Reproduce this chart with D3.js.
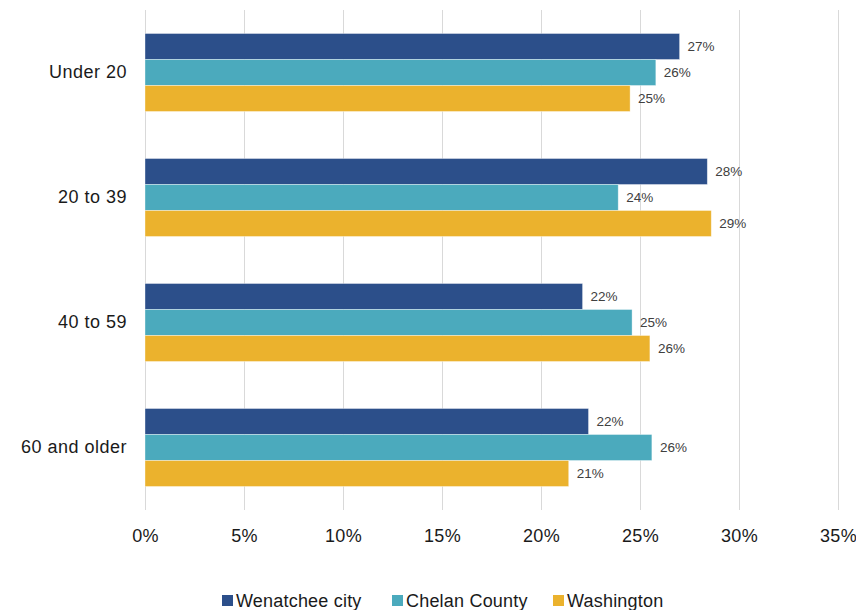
<!DOCTYPE html>
<html>
<head>
<meta charset="utf-8">
<script src="https://cdn.jsdelivr.net/npm/d3@7"></script>
<style>
  html, body { margin: 0; padding: 0; background: #fff; }
  svg { display: block; font-family: "Liberation Sans", Arial, sans-serif; }
</style>
</head>
<body>
<svg id="chart" width="856" height="610"></svg>
<script>
// Age groups, top to bottom
const categories = ["Under 20", "20 to 39", "40 to 59", "60 and older"];
const seriesNames = ["Wenatchee city", "Chelan County", "Washington"];
const seriesColors = ["#2C4F8A", "#4BAABD", "#EBB22D"];

// Share of population in each age group (%)
const wenatcheeCity = [27.0, 28.4, 22.1, 22.4];
const chelanCounty  = [25.8, 23.9, 24.6, 25.6];
const washington    = [24.5, 28.6, 25.5, 21.4];

const xTicks = [0, 5, 10, 15, 20, 25, 30, 35];

const seriesValues = [wenatcheeCity, chelanCounty, washington];

const svg = d3.select("#chart");
const plotLeft = 145, plotRight = 838, plotTop = 10, plotBottom = 510;
const labelFont = "'Liberation Sans', Arial, sans-serif";

const x = d3.scaleLinear().domain([0, 35]).range([plotLeft, plotRight]);
const y0 = d3.scaleBand().domain(categories).range([plotTop, plotBottom])
  .paddingInner(0.376).paddingOuter(0.188);
const y1 = d3.scaleBand().domain(seriesNames).range([0, y0.bandwidth()]);

// Vertical gridlines
svg.append("g").selectAll("line").data(xTicks).join("line")
  .attr("x1", d => x(d) + 0.5).attr("x2", d => x(d) + 0.5)
  .attr("y1", plotTop).attr("y2", plotBottom)
  .attr("stroke", "#d9d9d9").attr("stroke-width", 1);

// X axis tick labels
const xAxis = d3.axisBottom(x).tickValues(xTicks).tickFormat(d => d + "%").tickSize(0).tickPadding(0);
const gx = svg.append("g").attr("transform", `translate(0,${plotBottom})`).call(xAxis);
gx.select(".domain").remove();
gx.selectAll("text").attr("y", 32).attr("dy", 0)
  .attr("font-size", 18).attr("letter-spacing", 0.3).attr("fill", "#1a1a1a")
  .attr("font-family", labelFont);

// Category labels
const yAxis = d3.axisLeft(y0).tickSize(0).tickPadding(18);
const gy = svg.append("g").attr("transform", `translate(${plotLeft},0)`).call(yAxis);
gy.select(".domain").remove();
gy.selectAll("text").attr("font-size", 18).attr("letter-spacing", 0.5).attr("fill", "#1a1a1a")
  .attr("font-family", labelFont);

// Bars and value labels
const rows = categories.flatMap((c, i) =>
  seriesNames.map((s, j) => ({ cat: c, series: s, value: seriesValues[j][i], color: seriesColors[j] })));

const g = svg.append("g");
g.selectAll("rect").data(rows).join("rect")
  .attr("x", x(0))
  .attr("y", d => y0(d.cat) + y1(d.series))
  .attr("width", d => x(d.value) - x(0))
  .attr("height", y1.bandwidth())
  .attr("fill", d => d.color)
  .attr("stroke", "#ffffff").attr("stroke-opacity", 0.5).attr("stroke-width", 0.75);

g.selectAll("text").data(rows).join("text")
  .attr("x", d => x(d.value) + 8)
  .attr("y", d => y0(d.cat) + y1(d.series) + y1.bandwidth() / 2)
  .attr("dy", "0.35em")
  .attr("font-size", 13.5).attr("fill", "#404040")
  .text(d => Math.round(d.value) + "%");

// Legend
const legendX = [222, 392, 553];
const lg = svg.append("g");
seriesNames.forEach((s, i) => {
  lg.append("rect").attr("x", legendX[i]).attr("y", 595).attr("width", 11).attr("height", 11)
    .attr("fill", seriesColors[i]);
  lg.append("text").attr("x", legendX[i] + 14).attr("y", 607)
    .attr("font-size", 18).attr("letter-spacing", 0.2).attr("fill", "#1a1a1a").text(s);
});
</script>
</body>
</html>
